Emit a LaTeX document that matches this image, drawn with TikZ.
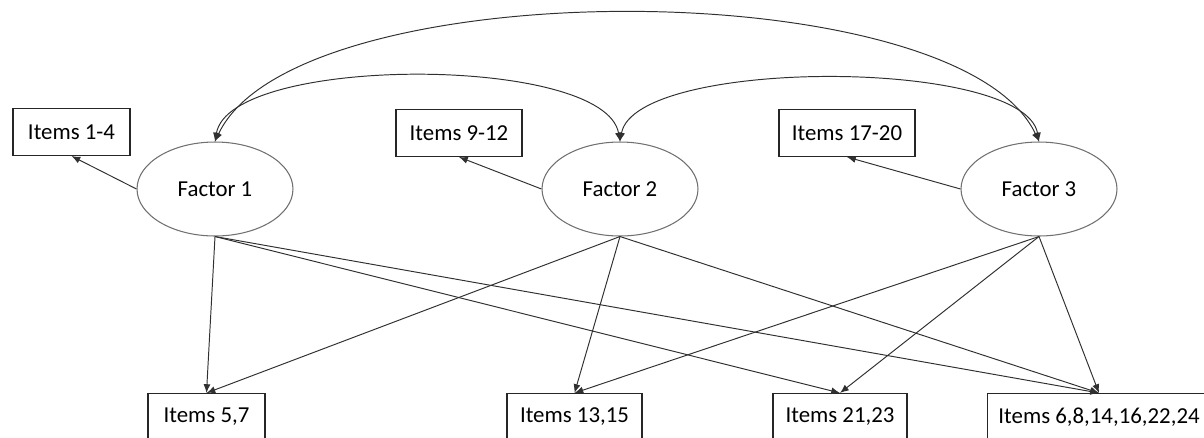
\documentclass[tikz,border=0pt]{standalone}
\usepackage{fontspec}
\setmainfont{Carlito}
\usepackage{tikz}
\usetikzlibrary{arrows.meta,shapes.geometric}
\definecolor{boxline}{HTML}{262626}
\definecolor{ovalline}{HTML}{707070}
\definecolor{pathline}{HTML}{303030}

\begin{document}
\begin{tikzpicture}[x=0.02cm,y=0.02cm,>={Latex[length=5pt,width=4pt]},
  itembox/.style={draw=boxline,line width=0.6pt,inner sep=0pt,minimum height=0.94cm,font=\fontsize{13}{15}\selectfont},
  factor/.style={draw=ovalline,ellipse,line width=0.6pt,inner sep=0pt,minimum width=3.12cm,minimum height=1.88cm,font=\fontsize{13}{15}\selectfont},
  load/.style={->,pathline,line width=0.55pt}]
  \useasboundingbox (0,0) rectangle (1204,-437);
  \node[itembox,minimum width=2.34cm] (i14) at (71.5,-132) {Items 1-4};
  \node[itembox,minimum width=2.52cm] (i912) at (459,-133) {Items 9-12};
  \node[itembox,minimum width=2.72cm] (i1720) at (847,-133) {Items 17-20};
  \node[factor] (f1) at (215,-189) {Factor 1};
  \node[factor] (f2) at (620,-189) {Factor 2};
  \node[factor] (f3) at (1039,-189) {Factor 3};
  \node[itembox,minimum width=2.34cm] (i57) at (206.5,-417) {Items 5,7};
  \node[itembox,minimum width=2.70cm] (i1315) at (574.5,-417) {Items 13,15};
  \node[itembox,minimum width=2.68cm] (i2123) at (840,-417) {Items 21,23};
  \node[itembox,minimum width=4.48cm] (i6) at (1099,-417) {Items 6,8,14,16,22,24};
  \draw[load] (f1.west) -- (i14.south);
  \draw[load] (f2.west) -- (i912.south);
  \draw[load] (f3.west) -- (i1720.south);
  \foreach \t in {i57,i2123,i6} \draw[load] (f1.south) -- (\t.north);
  \foreach \t in {i57,i1315,i6} \draw[load] (f2.south) -- (\t.north);
  \foreach \t in {i1315,i2123,i6} \draw[load] (f3.south) -- (\t.north);
  \draw[<->,pathline,line width=0.55pt] (f1.north) .. controls +(15,87) and +(-15,87) .. (f2.north);
  \draw[<->,pathline,line width=0.55pt] (f2.north) .. controls +(15,84) and +(-15,84) .. (f3.north);
  \draw[<->,pathline,line width=0.55pt] (f1.north) .. controls +(80,171) and +(-80,171) .. (f3.north);
\end{tikzpicture}
\end{document}
